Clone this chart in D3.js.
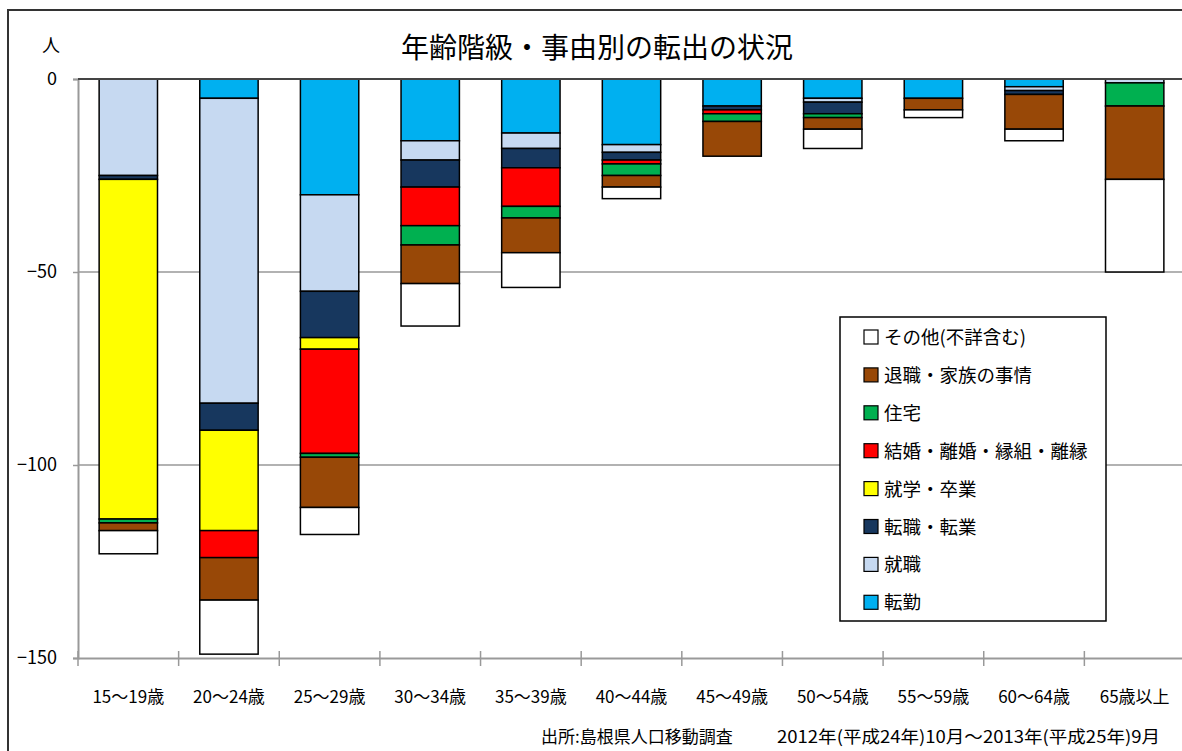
<!DOCTYPE html>
<html>
<head>
<meta charset="utf-8">
<script src="https://cdn.jsdelivr.net/npm/d3@7"></script>
<style>
  body { margin: 0; background: #fff; }
  text { font-family: "Noto Sans CJK JP", "Noto Sans", sans-serif; fill: #000; }
</style>
</head>
<body>
<script>
// Data (people moving out, by age class and reason)
const ageGroups = ["15～19歳", "20～24歳", "25～29歳", "30～34歳", "35～39歳", "40～44歳",
                   "45～49歳", "50～54歳", "55～59歳", "60～64歳", "65歳以上"];
const tenkin    = [0, 5, 30, 16, 14, 17, 7, 5, 5, 2, 0];      // 転勤
const shushoku  = [25, 79, 25, 5, 4, 2, 0, 1, 0, 1, 1];      // 就職
const tenshoku  = [1, 7, 12, 7, 5, 2, 1, 3, 0, 1, 0];        // 転職・転業
const shugaku   = [88, 26, 3, 0, 0, 0, 0, 0, 0, 0, 0];       // 就学・卒業
const kekkon    = [0, 7, 27, 10, 10, 1, 1, 0, 0, 0, 0];      // 結婚・離婚・縁組・離縁
const jutaku    = [1, 0, 1, 5, 3, 3, 2, 1, 0, 0, 6];         // 住宅
const taishoku  = [2, 11, 13, 10, 9, 3, 9, 3, 3, 9, 19];     // 退職・家族の事情
const sonota    = [6, 14, 7, 11, 9, 3, 0, 5, 2, 3, 24];      // その他(不詳含む)
const yTicks = [0, -50, -100, -150];

const seriesNames = ["転勤", "就職", "転職・転業", "就学・卒業", "結婚・離婚・縁組・離縁",
                     "住宅", "退職・家族の事情", "その他(不詳含む)"];
const seriesValues = [tenkin, shushoku, tenshoku, shugaku, kekkon, jutaku, taishoku, sonota];
const colors = ["#00B0F0", "#C6D9F1", "#17375E", "#FFFF00", "#FF0000", "#00B050", "#984807", "#FFFFFF"];

const width = 1182, height = 751;
const svg = d3.select("body").append("svg")
    .attr("width", width)
    .attr("height", height);

// outer frame
svg.append("rect")
    .attr("x", 8).attr("y", 10)
    .attr("width", 1300).attr("height", 900)
    .attr("fill", "none")
    .attr("stroke", "#333")
    .attr("stroke-width", 2);

const plot = { left: 78, right: 1185, top: 79, bottom: 658 };

const x = d3.scaleBand()
    .domain(ageGroups)
    .range([plot.left, plot.right])
    .paddingInner(0.42)
    .paddingOuter(0.21);

const y = d3.scaleLinear()
    .domain([-150, 0])
    .range([plot.bottom, plot.top]);

// build table rows with negative values
const rows = ageGroups.map((g, i) => {
    const r = { group: g };
    seriesNames.forEach((s, k) => { r[s] = -seriesValues[k][i]; });
    return r;
});

const stack = d3.stack()
    .keys(seriesNames)
    .offset(d3.stackOffsetDiverging);
const stacked = stack(rows);

// gridlines
svg.append("g")
    .selectAll("line")
    .data(yTicks.filter(t => t !== 0 && t !== -150))
    .join("line")
    .attr("x1", plot.left).attr("x2", plot.right)
    .attr("y1", d => y(d)).attr("y2", d => y(d))
    .attr("stroke", "#999")
    .attr("stroke-width", 1.5);

// bottom axis line with crossing ticks
const xAxis = svg.append("g")
    .attr("transform", `translate(0,${plot.bottom})`)
    .call(d3.axisBottom(x).tickSize(0).tickFormat(""));
xAxis.select(".domain").attr("stroke", "#999").attr("stroke-width", 2);
const bandStep = x.step();
svg.append("g")
    .selectAll("line")
    .data(d3.range(ageGroups.length + 1))
    .join("line")
    .attr("x1", i => plot.left + i * bandStep)
    .attr("x2", i => plot.left + i * bandStep)
    .attr("y1", plot.bottom - 7)
    .attr("y2", plot.bottom + 8)
    .attr("stroke", "#999")
    .attr("stroke-width", 1.5);

// x labels
svg.append("g")
    .selectAll("text")
    .data(ageGroups)
    .join("text")
    .attr("x", d => x(d) + x.bandwidth() / 2)
    .attr("y", 703)
    .attr("text-anchor", "middle")
    .attr("font-size", 17)
    .text(d => d);

// bars
svg.append("g")
    .selectAll("g")
    .data(stacked)
    .join("g")
    .attr("fill", (d, i) => colors[i])
    .selectAll("rect")
    .data(d => d.filter(p => p[1] - p[0] > 0))
    .join("rect")
    .attr("x", d => x(d.data.group))
    .attr("y", d => y(d[1]))
    .attr("width", x.bandwidth())
    .attr("height", d => y(d[0]) - y(d[1]))
    .attr("stroke", "#000")
    .attr("stroke-width", 1.5);

// y axis
const yAxis = svg.append("g")
    .attr("transform", `translate(${plot.left},0)`)
    .call(d3.axisLeft(y).tickValues(yTicks).tickSize(5).tickPadding(16).tickFormat(d3.format("d")));
yAxis.select(".domain").attr("stroke", "#999").attr("stroke-width", 2);
yAxis.selectAll(".tick line").attr("stroke", "#999").attr("stroke-width", 1.5);
yAxis.selectAll(".tick text")
    .attr("font-size", 18)
    .attr("font-family", "'Noto Sans CJK JP', sans-serif")
    .attr("fill", "#000");

// zero line on top
svg.append("line")
    .attr("x1", plot.left).attr("x2", plot.right)
    .attr("y1", y(0)).attr("y2", y(0))
    .attr("stroke", "#444")
    .attr("stroke-width", 2);

// title and unit
svg.append("text")
    .attr("x", 597).attr("y", 58)
    .attr("text-anchor", "middle")
    .attr("font-size", 28)
    .text("年齢階級・事由別の転出の状況");

svg.append("text")
    .attr("x", 51).attr("y", 52)
    .attr("text-anchor", "middle")
    .attr("font-size", 18)
    .text("人");

// source
svg.append("text")
    .attr("x", 541).attr("y", 743)
    .attr("font-size", 17)
    .text("出所:島根県人口移動調査");
svg.append("text")
    .attr("x", 777).attr("y", 743)
    .attr("font-size", 17)
    .attr("textLength", 383)
    .attr("lengthAdjust", "spacingAndGlyphs")
    .text("2012年(平成24年)10月～2013年(平成25年)9月");

// legend
const legend = svg.append("g");
legend.append("rect")
    .attr("x", 840).attr("y", 317)
    .attr("width", 266).attr("height", 304)
    .attr("fill", "#fff")
    .attr("stroke", "#000")
    .attr("stroke-width", 1.5);

const legendOrder = d3.range(seriesNames.length).reverse();
const li = legend.selectAll("g.item")
    .data(legendOrder)
    .join("g")
    .attr("class", "item")
    .attr("transform", (d, i) => `translate(864,${337 + i * 37.9})`);
li.append("rect")
    .attr("x", 0).attr("y", -7)
    .attr("width", 14).attr("height", 14)
    .attr("fill", d => colors[d])
    .attr("stroke", "#000")
    .attr("stroke-width", 1.2);
li.append("text")
    .attr("x", 20).attr("y", 7)
    .attr("font-size", 18.5)
    .text(d => seriesNames[d]);
</script>
</body>
</html>
